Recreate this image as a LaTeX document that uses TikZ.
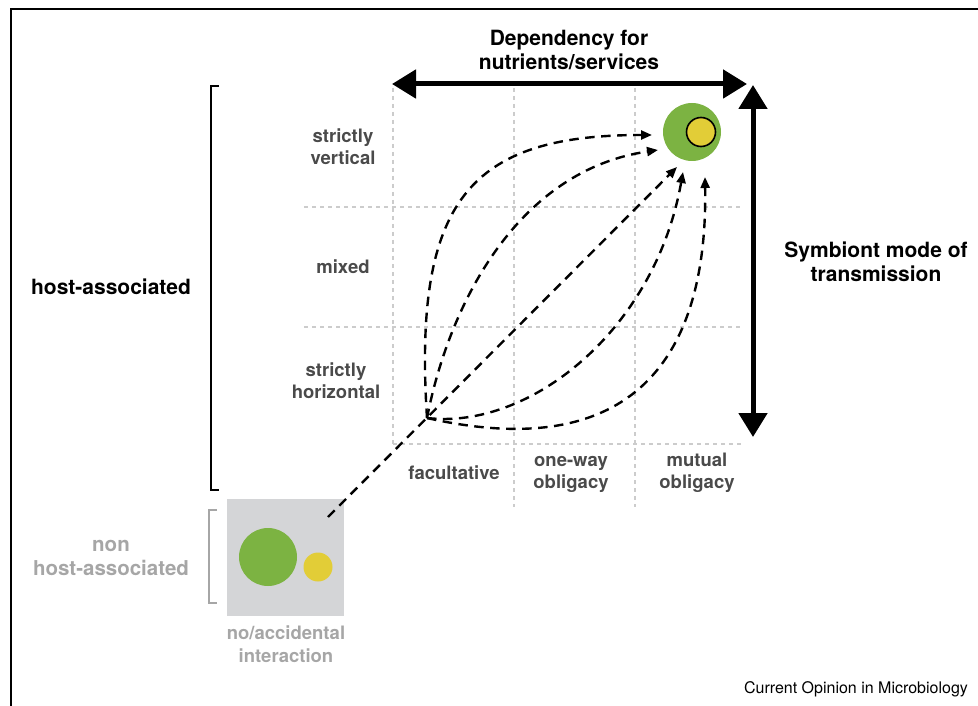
\documentclass[tikz,border=0pt]{standalone}
\usepackage{fontspec}
\setmainfont{TeX Gyre Heros}
\usetikzlibrary{arrows.meta}
\definecolor{leafgreen}{HTML}{7CB342}
\definecolor{sunyellow}{HTML}{E2CD37}
\definecolor{boxgray}{HTML}{D4D5D7}
\definecolor{labgray}{HTML}{4A4A4A}
\definecolor{lightlab}{HTML}{A6A6A6}
\definecolor{gridgray}{HTML}{CCCCCC}
\tikzset{
  head/.style={font=\bfseries\fontsize{21}{24.5}\selectfont, align=center, text=black, inner sep=0pt},
  celllab/.style={font=\bfseries\fontsize{18.5}{22}\selectfont, align=center, text=labgray, inner sep=0pt},
  greylab/.style={font=\bfseries\fontsize{18.5}{23}\selectfont, align=center, text=lightlab, inner sep=0pt},
  gridline/.style={gridgray, line width=1.4pt, dash pattern=on 4pt off 4pt},
  bigarrow/.style={line width=5pt, {Triangle[length=24pt,width=28pt]}-{Triangle[length=24pt,width=28pt]}},
  dasharrow/.style={line width=2.4pt, dash pattern=on 9.5pt off 6.5pt, -{Triangle[length=11pt,width=9pt]}},
}
\begin{document}
\begin{tikzpicture}[x=1pt,y=-1pt]
\useasboundingbox (0,0) rectangle (978,706);
% frame
\draw[line width=1.3pt] (11,706) -- (11,9) -- (978,9);

% grid
\foreach \yy in {207,327} \draw[gridline] (304,\yy) -- (742,\yy);
\draw[gridline] (393,444) -- (742,444);
\draw[gridline] (393,88) -- (393,444);
\foreach \xx in {514,635} \draw[gridline] (\xx,88) -- (\xx,507);

% big axis arrows
\coordinate (hl) at (392,84);
\coordinate (hr) at (747,84);
\coordinate (vt) at (753,85);
\coordinate (vb) at (753,437);
\draw[bigarrow] (hl) -- (hr);
\draw[bigarrow] (vt) -- (vb);

% brackets
\draw[line width=2.5pt] (219,86) -- (211,86) -- (211,490) -- (219,490);
\draw[line width=2pt, color=lightlab] (217,510) -- (209,510) -- (209,603) -- (217,603);

% non host-associated box
\node[fill=boxgray, minimum width=117pt, minimum height=117pt, inner sep=0pt] (freebox) at (285.5,557.5) {};
\node[circle, fill=leafgreen, minimum size=58pt, inner sep=0pt] (freegreen) at (268,557) {};
\node[circle, fill=sunyellow, minimum size=29pt, inner sep=0pt] (freeyellow) at (318,567) {};

% target symbiosis
\node[circle, fill=leafgreen, minimum size=58pt, inner sep=0pt] (hostgreen) at (692,132) {};
\node[circle, fill=sunyellow, draw=black, line width=1.6pt, minimum size=29pt, inner sep=0pt] (hostyellow) at (701,132) {};

% dashed trajectories
\coordinate (O) at (427,418);
\coordinate (ds) at (328,517);
\coordinate (e1) at (652,135);
\coordinate (e2) at (658,150);
\coordinate (e3) at (677,167);
\coordinate (e4) at (683,172);
\coordinate (e5) at (705,177);
\draw[dasharrow] (O) .. controls (413,200) and (470,135) .. (e1);
\draw[dasharrow] (O) .. controls (450,300) and (520,170) .. (e2);
\draw[dasharrow] (ds) -- (e3);
\draw[dasharrow] (O) .. controls (530,430) and (655,330) .. (e4);
\draw[dasharrow] (O) .. controls (622,462) and (708,370) .. (e5);

% labels
\node[head] (dep) at (569,50) {Dependency for\\nutrients/services};
\node[head] (sym) at (876,262) {Symbiont mode of\\transmission};
\node[head] (host) at (111,287) {host-associated};
\node[greylab, font=\bfseries\fontsize{20.5}{24}\selectfont] (nonhost) at (111,558) {non\\host-associated};
\node[greylab] (noint) at (286,644) {no/accidental\\interaction};

\node[celllab] (rv) at (343,147) {strictly\\vertical};
\node[celllab] (rm) at (343,267) {mixed};
\node[celllab] (rh) at (336,381) {strictly\\horizontal};
\node[celllab] (cf) at (454,473) {facultative};
\node[celllab] (co) at (571,474) {one-way\\obligacy};
\node[celllab] (cm) at (697,473) {mutual\\obligacy};

\node[font=\fontsize{16}{18}\selectfont, inner sep=0pt] (credit) at (856,689) {Current Opinion in Microbiology};
\end{tikzpicture}
\end{document}
